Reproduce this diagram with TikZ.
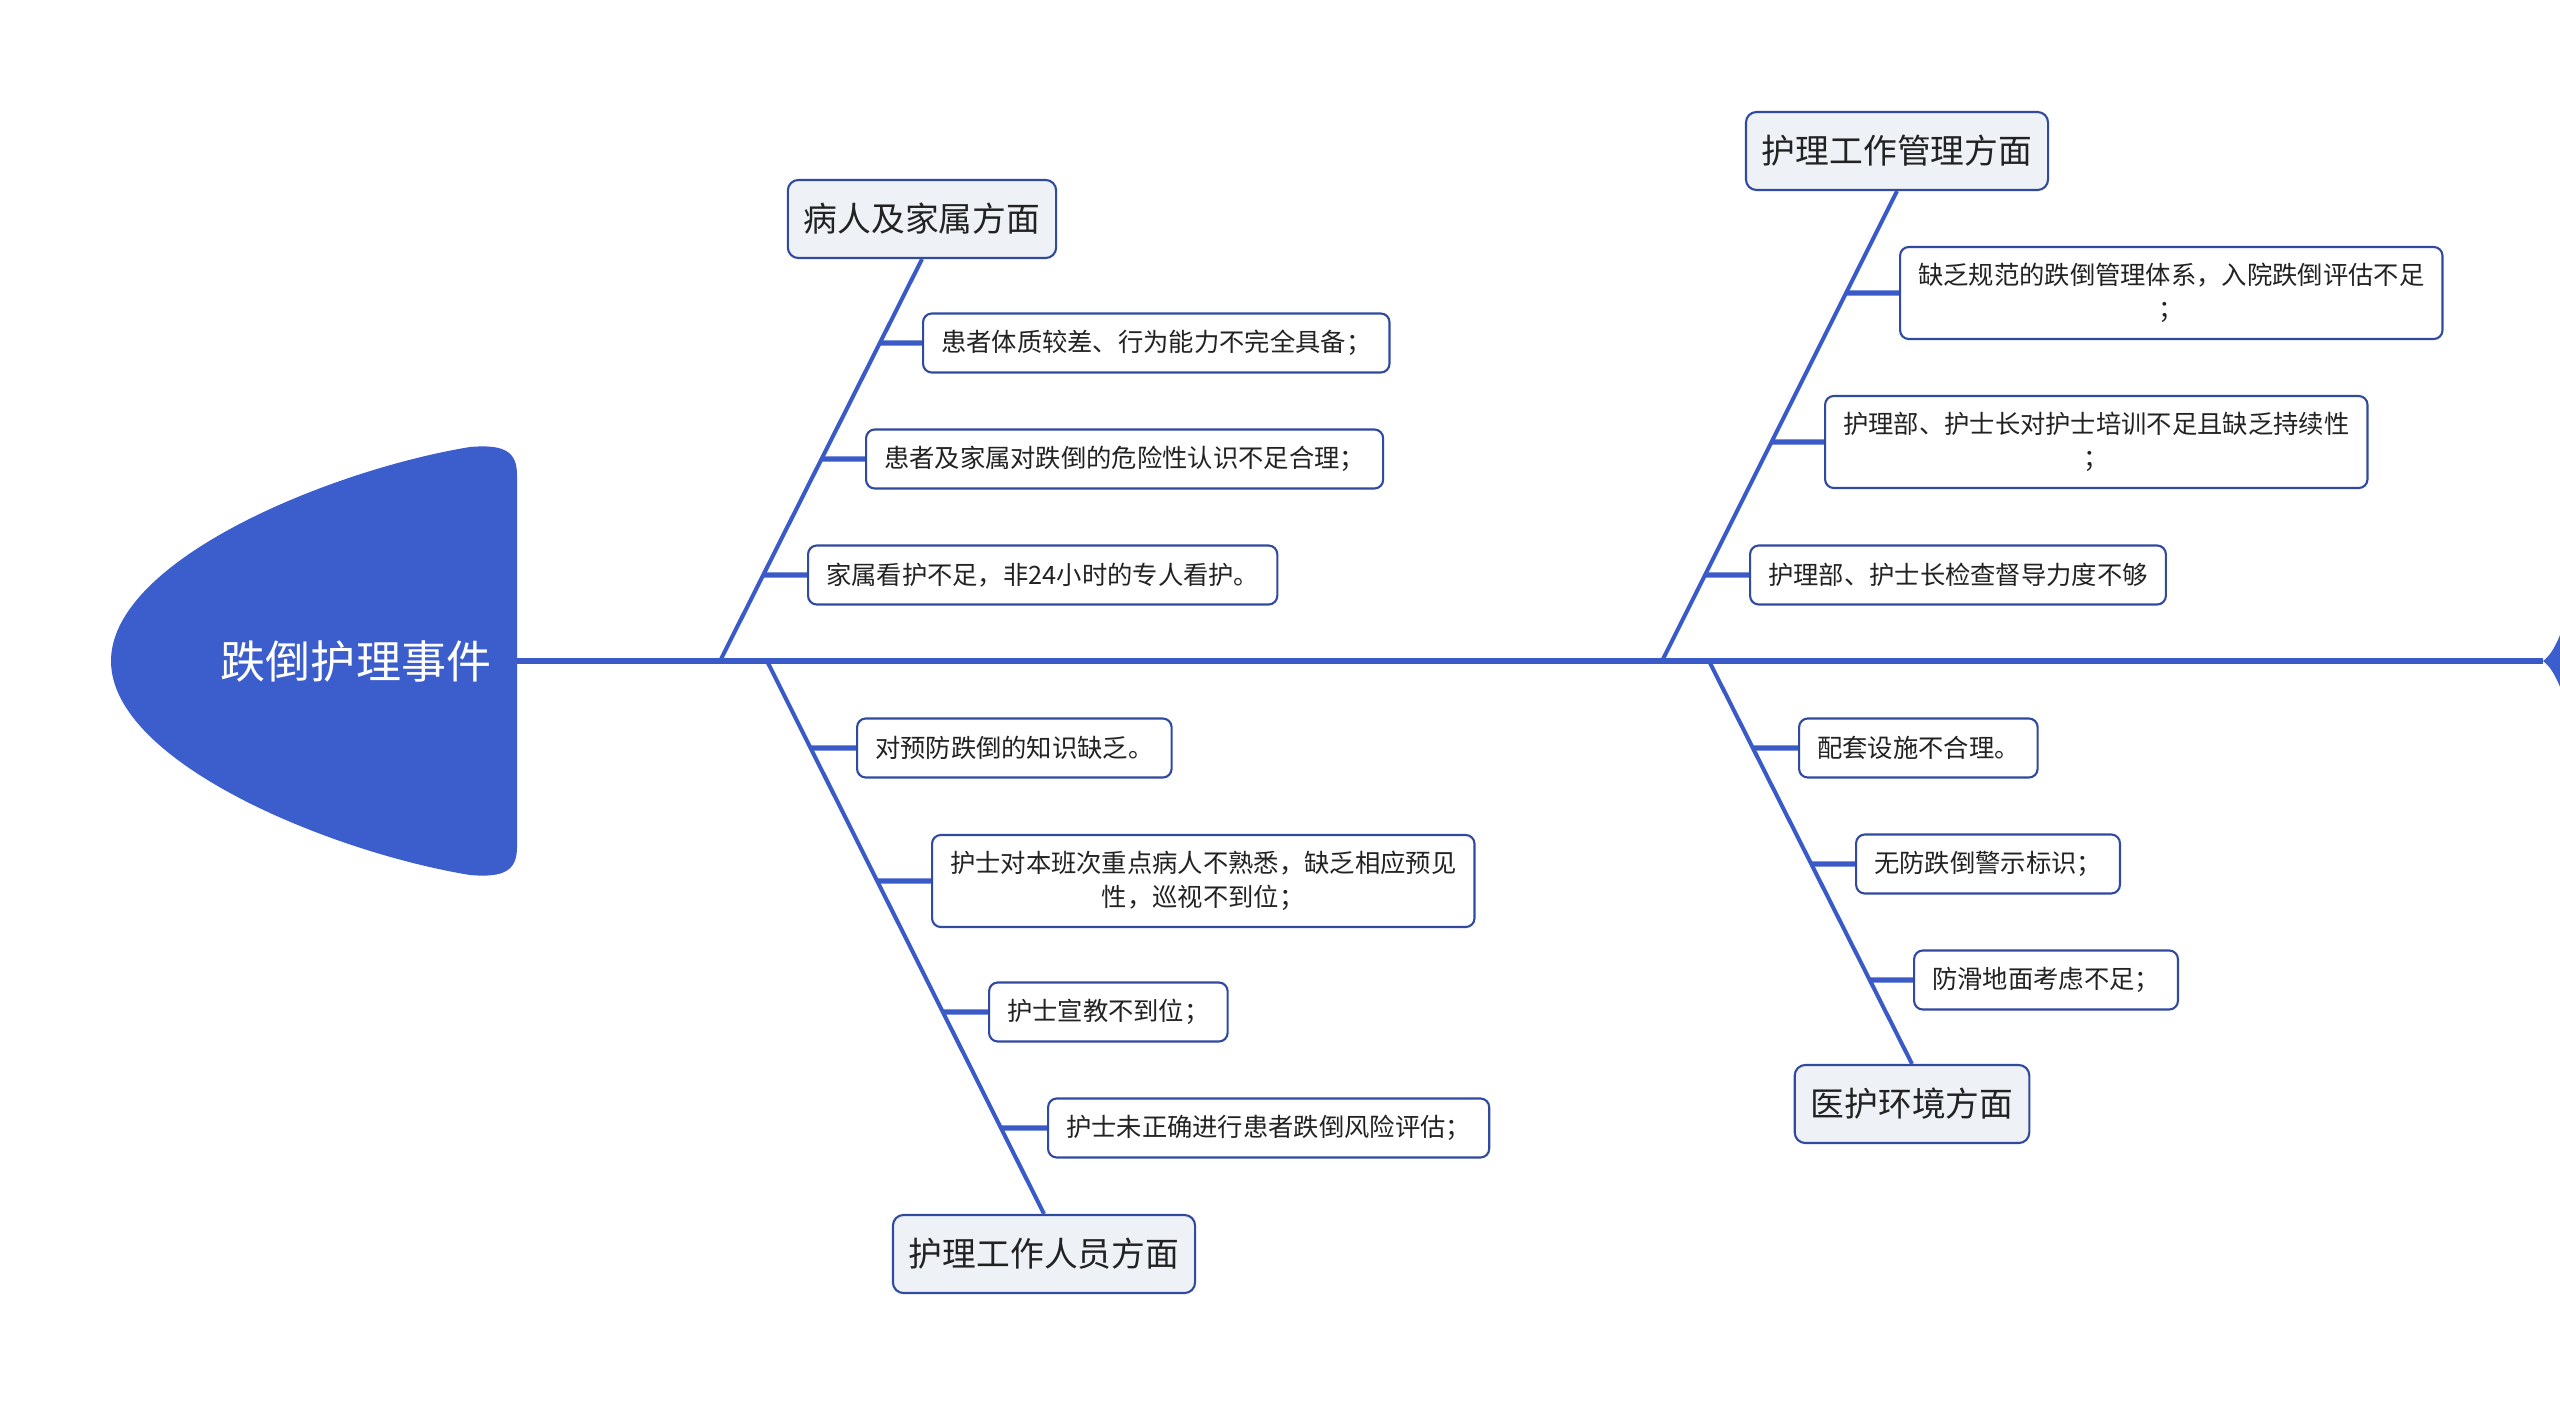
\documentclass[tikz,border=0pt]{standalone}
\usepackage{fontspec}
\setmainfont{Noto Sans CJK SC}
\usetikzlibrary{calc}
\definecolor{boneblue}{RGB}{58,91,199}
\definecolor{headblue}{RGB}{59,94,204}
\definecolor{boxline}{RGB}{48,74,160}
\definecolor{catfill}{RGB}{238,241,246}
\definecolor{inkgray}{RGB}{34,34,34}

\begin{document}
\begin{tikzpicture}[x=0.01cm, y=-0.01cm,
    bone/.style={draw=boneblue, line width=1.15pt},
    stub/.style={draw=boneblue, line width=1.5pt},
    catbox/.style={draw=boxline, fill=catfill, rounded corners=3pt, line width=0.6pt, inner xsep=0.16cm, minimum height=0.78cm, font=\fontsize{9.6}{12}\selectfont, text=inkgray},
    itembox/.style={draw=boxline, fill=white, rounded corners=2.5pt, line width=0.6pt, inner xsep=0.18cm, minimum height=0.59cm, align=center, anchor=west, font=\fontsize{7.2}{9.7}\selectfont, text=inkgray},
    tallbox/.style={itembox, minimum height=0.92cm}
  ]
  \useasboundingbox (0,0) rectangle (2560,1406);

  % Head and spine
  \fill[headblue] (517,475) .. controls (517,452) and (505,444) .. (470,447)
    .. controls (330,470) and (111,560) .. (111,661)
    .. controls (111,762) and (330,852) .. (470,875)
    .. controls (505,878) and (517,870) .. (517,847) -- cycle;
  \node[text=white, font=\fontsize{12.8}{15}\selectfont] (root) at (356,661) {跌倒护理事件};
  \coordinate (headend) at (517,661);
  \coordinate (tailtip) at (2543,661);
  \draw[draw=boneblue, line width=1.5pt] (headend) -- (tailtip);
  \fill[headblue] (tailtip) .. controls (2550,656) and (2556,646) .. (2562,630)
    -- (2562,692) .. controls (2556,676) and (2550,666) .. (tailtip) -- cycle;

  % Branch 1: patient and family
  \coordinate (s1) at (720,661);
  \node[catbox] (cat1) at (922,219) {病人及家属方面};
  \node[itembox] (a1) at (922,343) {患者体质较差、行为能力不完全具备；};
  \node[itembox] (a2) at (865,459) {患者及家属对跌倒的危险性认识不足合理；};
  \node[itembox] (a3) at (807,575) {家属看护不足，非24小时的专人看护。};
  \draw[bone] (s1) -- (cat1.south);
  \foreach \n in {a1,a2,a3}
    \draw[stub] (\n.west) -- (intersection of s1--cat1.south and \n.west--\n.east);

  % Branch 2: nursing staff
  \coordinate (s2) at (767,661);
  \node[catbox] (cat2) at (1044,1254) {护理工作人员方面};
  \node[itembox] (b1) at (856,748) {对预防跌倒的知识缺乏。};
  \node[tallbox] (b2) at (931,881) {护士对本班次重点病人不熟悉，缺乏相应预见\\性，巡视不到位；};
  \node[itembox] (b3) at (988,1012) {护士宣教不到位；};
  \node[itembox] (b4) at (1047,1128) {护士未正确进行患者跌倒风险评估；};
  \draw[bone] (s2) -- (cat2.north);
  \foreach \n in {b1,b2,b3,b4}
    \draw[stub] (\n.west) -- (intersection of s2--cat2.north and \n.west--\n.east);

  % Branch 3: nursing management
  \coordinate (s3) at (1662,661);
  \node[catbox] (cat3) at (1897,151) {护理工作管理方面};
  \node[tallbox] (c1) at (1899,293) {缺乏规范的跌倒管理体系，入院跌倒评估不足\\；};
  \node[tallbox] (c2) at (1824,442) {护理部、护士长对护士培训不足且缺乏持续性\\；};
  \node[itembox] (c3) at (1749,575) {护理部、护士长检查督导力度不够};
  \draw[bone] (s3) -- (cat3.south);
  \foreach \n in {c1,c2,c3}
    \draw[stub] (\n.west) -- (intersection of s3--cat3.south and \n.west--\n.east);

  % Branch 4: care environment
  \coordinate (s4) at (1709,661);
  \node[catbox] (cat4) at (1912,1104) {医护环境方面};
  \node[itembox] (d1) at (1798,748) {配套设施不合理。};
  \node[itembox] (d2) at (1855,864) {无防跌倒警示标识；};
  \node[itembox] (d3) at (1913,980) {防滑地面考虑不足；};
  \draw[bone] (s4) -- (cat4.north);
  \foreach \n in {d1,d2,d3}
    \draw[stub] (\n.west) -- (intersection of s4--cat4.north and \n.west--\n.east);
\end{tikzpicture}
\end{document}
